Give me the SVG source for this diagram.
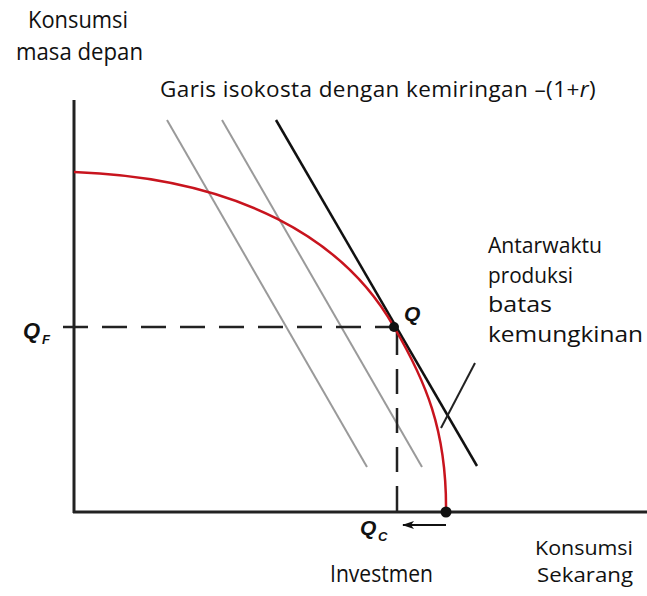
<svg xmlns="http://www.w3.org/2000/svg" width="647" height="596" viewBox="0 0 647 596">
<defs>
<style>
.lbl{font-family:"Open Sans","Liberation Sans",sans-serif;font-size:24px;fill:#111}
.sm{font-size:22px}
.xs{font-size:20px}
.q{font-family:"Liberation Sans",Arial,sans-serif;font-weight:bold;font-style:italic;fill:#111}
.gray{stroke:#9a9a9a;stroke-width:2;fill:none}
.axis{stroke:#222;stroke-width:3;fill:none}
.dash{stroke:#222;stroke-width:2.5;fill:none;stroke-dasharray:25 14}
</style>
<marker id="ah" viewBox="0 0 12 8" refX="11" refY="4" markerWidth="12" markerHeight="8" markerUnits="userSpaceOnUse" orient="auto">
<path d="M0,0 L12,4 L0,8 L3,4 Z" fill="#111"/>
</marker>
</defs>
<rect width="647" height="596" fill="#fff"/>

<g id="connectors">
<line class="axis" x1="74" y1="100" x2="74" y2="513"/>
<line class="axis" x1="73" y1="512" x2="647" y2="512"/>
<line class="gray" x1="167" y1="120" x2="367" y2="467"/>
<line class="gray" x1="222" y1="120" x2="422" y2="467"/>
<line x1="276" y1="120" x2="477" y2="466" stroke="#111" stroke-width="2.5"/>
<line class="dash" x1="63" y1="327" x2="394" y2="327"/>
<line class="dash" x1="397" y1="330" x2="397" y2="522"/>
<path d="M74,172 C240,178 345,240 394,327 C425,380 447,430 446,512" fill="none" stroke="#c8141e" stroke-width="2.5"/>
<line x1="475" y1="363" x2="441" y2="428" stroke="#222" stroke-width="2"/>
<line x1="446" y1="525" x2="403" y2="525" stroke="#111" stroke-width="2" marker-end="url(#ah)"/>
</g>

<g id="point-Q"><circle cx="394" cy="327" r="5" fill="#111"/>
<text class="q" x="404" y="321" font-size="21">Q</text></g>
<g id="point-end"><circle cx="446" cy="512" r="5.5" fill="#111"/></g>
<g id="label-QF"><text class="q" x="23" y="338" font-size="22">Q</text><text class="q" x="42" y="344" font-size="13">F</text></g>
<g id="label-QC"><text class="q" x="360" y="535" font-size="21">Q</text><text class="q" x="378" y="541" font-size="13">C</text></g>

<g id="label-yaxis">
<text class="lbl" x="28" y="28" textLength="100" lengthAdjust="spacingAndGlyphs">Konsumsi</text>
<text class="lbl" x="16" y="60" textLength="127" lengthAdjust="spacingAndGlyphs">masa depan</text>
</g>
<g id="label-isocost">
<text class="lbl" x="160" y="97" style="font-size:22.5px;letter-spacing:0.4px">Garis isokosta dengan kemiringan –(1+<tspan font-style="italic">r</tspan>)</text>
</g>
<g id="label-frontier">
<text class="lbl sm" x="488" y="253" textLength="114" lengthAdjust="spacingAndGlyphs">Antarwaktu</text>
<text class="lbl sm" x="488" y="283" textLength="85" lengthAdjust="spacingAndGlyphs">produksi</text>
<text class="lbl sm" x="488" y="312" textLength="64" lengthAdjust="spacingAndGlyphs">batas</text>
<text class="lbl sm" x="488" y="342" textLength="155" lengthAdjust="spacingAndGlyphs">kemungkinan</text>
</g>
<g id="label-xaxis">
<text class="lbl xs" x="535" y="555" textLength="98" lengthAdjust="spacingAndGlyphs">Konsumsi</text>
<text class="lbl xs" x="537" y="582" textLength="96" lengthAdjust="spacingAndGlyphs">Sekarang</text>
</g>
<g id="label-invest">
<text class="lbl" x="330" y="582" textLength="103" lengthAdjust="spacingAndGlyphs">Investmen</text>
</g>
</svg>
